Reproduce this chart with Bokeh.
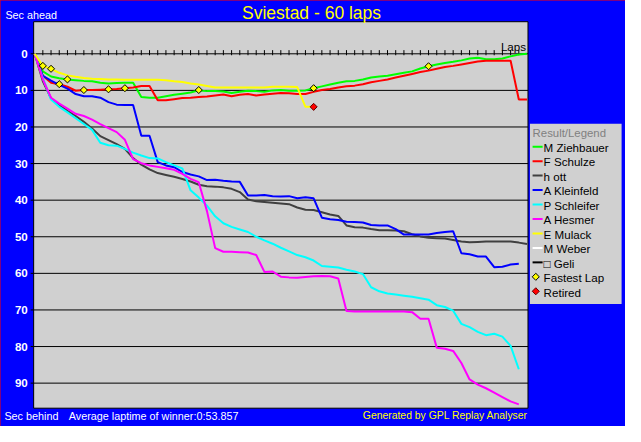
import math
from bokeh.plotting import figure
from bokeh.models import Range1d, Label
from bokeh.core.properties import value
from bokeh.embed import file_html
from bokeh.resources import INLINE

# ---------------- data ----------------
title_text = "Sviestad - 60 laps"
laps = list(range(61))
y_ticks = [0, 10, 20, 30, 40, 50, 60, 70, 80, 90]
y_tick_labels = [str(t) for t in y_ticks]

names = ["M Ziehbauer", "F Schulze", "h ott", "A Kleinfeld", "P Schleifer",
         "A Hesmer", "E Mulack", "M Weber", "\u25a1 Geli"]
colors = ["#00FF00", "#FF0000", "#404040", "#0000FF", "#00FFFF",
          "#FF00FF", "#FFFF00", "#FFFFFF", "#000000"]
marker_names = ["Fastest Lap", "Retired"]
marker_colors = ["#FFFF00", "#FF0000"]

ziehbauer = [0, 4.8, 6.2, 6.7, 7.0, 7.2, 7.4, 7.5, 7.9, 8.1,
             8.0, 7.9, 7.9, 11.8, 12.0, 12.0, 11.6, 11.2, 10.9, 10.6,
             10.0, 10.2, 10.2, 10.3, 10.7, 10.4, 10.1, 10.2, 10.4, 10.0,
             9.9, 10.1, 10.1, 10.0, 9.4, 8.9, 8.4, 7.9, 7.5, 7.4,
             7.0, 6.5, 6.2, 6.0, 5.6, 5.2, 4.8, 4.0, 3.4, 2.9,
             2.5, 2.2, 1.8, 1.3, 1.1, 1.5, 1.5, 1.3, 0.7, 0.2, 0.0]
schulze = [0, 6.0, 7.9, 8.3, 9.0, 10.1, 9.9, 9.9, 9.8, 9.7,
           9.6, 9.4, 9.2, 8.8, 8.8, 12.7, 12.7, 12.4, 12.1, 12.0,
           11.8, 11.7, 11.4, 11.1, 11.6, 11.2, 11.0, 11.4, 11.1, 10.9,
           10.7, 10.8, 11.0, 11.0, 10.4, 9.9, 9.6, 9.2, 8.9, 8.7,
           8.3, 7.8, 7.4, 7.0, 6.5, 6.0, 5.5, 5.0, 4.6, 4.1,
           3.6, 3.3, 2.9, 2.5, 2.1, 1.9, 1.9, 1.9, 1.9, 12.5, 12.5]
ott = [0, 7.5, 12.2, 14.0, 15.6, 17.0, 18.6, 20.4, 22.5, 23.6,
       24.7, 26.0, 28.5, 30.3, 31.6, 32.6, 33.1, 33.6, 34.2, 34.9,
       35.8, 36.2, 36.3, 36.5, 36.9, 37.8, 39.8, 40.3, 40.5, 40.7,
       40.9, 41.1, 42.0, 42.6, 42.7, 43.3, 43.9, 44.3, 46.9, 47.4,
       47.5, 47.9, 48.2, 48.2, 48.3, 48.5, 49.3, 49.9, 50.3, 50.4,
       50.5, 50.9, 51.3, 51.5, 51.4, 51.3, 51.3, 51.3, 51.3, 51.6, 52.0]
kleinfeld = [0, 6.0, 7.3, 8.5, 9.5, 11.0, 11.6, 11.6, 12.0, 13.2,
             13.9, 14.0, 14.0, 22.4, 22.4, 29.6, 30.5, 31.0, 32.3, 33.0,
             33.5, 34.5, 34.4, 34.7, 34.9, 35.0, 38.7, 38.7, 38.6, 38.9,
             39.0, 38.9, 39.5, 39.2, 39.5, 44.8, 45.2, 45.4, 45.9, 46.0,
             46.1, 46.8, 46.9, 46.9, 47.9, 49.4, 49.4, 49.4, 49.4, 49.0,
             48.7, 48.5, 54.5, 54.8, 55.4, 55.4, 58.3, 58.2, 57.6, 57.4]
schleifer = [0, 6.6, 12.5, 14.5, 16.0, 17.6, 19.2, 20.8, 24.3, 25.0,
             25.1, 26.0, 27.0, 27.8, 28.5, 28.6, 29.6, 30.5, 31.3, 37.3,
             39.3, 41.5, 44.4, 46.3, 47.3, 48.0, 48.7, 50.0, 51.0, 51.9,
             53.0, 54.0, 55.0, 55.6, 56.5, 58.0, 58.2, 58.4, 59.0, 59.5,
             60.2, 63.8, 64.9, 65.5, 65.8, 66.1, 66.4, 66.8, 67.2, 68.7,
             69.2, 70.2, 73.8, 74.7, 76.0, 76.9, 76.5, 77.3, 79.8, 86.2]
hesmer = [0, 7.0, 12.0, 13.6, 15.0, 16.4, 17.0, 18.0, 19.2, 20.3,
          21.4, 23.5, 28.8, 29.9, 30.5, 30.9, 31.3, 31.7, 32.8, 34.2,
          35.1, 43.0, 53.1, 54.1, 54.1, 54.2, 54.3, 55.0, 59.6, 59.5,
          60.9, 61.1, 61.2, 61.0, 60.8, 60.7, 60.8, 61.4, 70.3, 70.4,
          70.4, 70.4, 70.4, 70.4, 70.4, 70.4, 70.6, 72.4, 72.4, 80.3,
          80.6, 81.2, 84.5, 89.0, 90.4, 91.4, 92.6, 93.8, 95.0, 95.8]
mulack = [0, 3.3, 4.1, 5.2, 5.9, 6.3, 6.6, 6.8, 6.9, 7.0,
          7.0, 7.1, 7.1, 7.1, 7.1, 7.1, 7.2, 7.5, 7.7, 8.1,
          8.4, 8.8, 9.2, 9.2, 9.2, 9.2, 9.2, 9.2, 9.2, 9.0,
          9.0, 9.0, 9.1, 14.5, 14.5]
weber = []
geli = []
series = [ziehbauer, schulze, ott, kleinfeld, schleifer, hesmer, mulack, weber, geli]

fastest_laps = [1, 2, 3, 4, 6, 9, 11, 20, 34, 48]
fastest_secs = [3.3, 4.1, 8.3, 7.0, 9.9, 9.7, 9.4, 9.9, 9.4, 3.4]
retired_laps = [34]
retired_secs = [14.5]

# ---------------- layout (reference-pixel anchors) ----------------
W, H = 625, 426
RW, RH = 641.0, 442.0
LAP0_PX, LAP60_PX = 35.0, 540.0      # x pixel of lap 0 / lap 60
SEC0_PX, SEC90_PX = 55.3, 397.0      # y pixel of 0 s / 90 s


def lap_of(px):
    return (px - LAP0_PX) * 60.0 / (LAP60_PX - LAP0_PX)


def sec_of(py):
    return (py - SEC0_PX) * 90.0 / (SEC90_PX - SEC0_PX)


FONT = "Liberation Sans"

p = figure(width=W, height=H, output_backend="svg", toolbar_location=None, title=None,
           x_range=Range1d(lap_of(0), lap_of(RW)), y_range=Range1d(sec_of(RH), sec_of(0)),
           x_axis_location=None, y_axis_location=None,
           min_border=0, min_border_left=0, min_border_right=0,
           min_border_top=0, min_border_bottom=0,
           background_fill_color="#0000FF", border_fill_color="#0000FF",
           outline_line_color=None)
p.grid.visible = False
p.styles = {"outline": "2px solid #FF0000", "outline-offset": "-2px"}

# plot area
p.quad(left=[lap_of(34)], right=[lap_of(541)], top=[sec_of(22)], bottom=[sec_of(423)],
       fill_color="#D0D0D0", line_color="black", line_width=1)

# horizontal grid lines with their outside tick, and tick labels
n = len(y_ticks)
p.segment(x0=[lap_of(31)] * n, y0=y_ticks, x1=[lap_of(541)] * n, y1=y_ticks,
          line_color="black", line_width=1)
p.text(x=[lap_of(28)] * n, y=y_ticks, text=y_tick_labels,
       text_align="right", text_baseline="middle", text_color="white",
       text_font=value(FONT), text_font_style="bold", text_font_size="11.6px")

# lap marks on the zero line
p.segment(x0=laps[1:60], y0=[-1.0] * 59, x1=laps[1:60], y1=[0.4] * 59,
          line_color="black", line_width=1)

# driver lines
for name, col, s in zip(names, colors, series):
    p.line(laps[:len(s)], s, line_color=col, line_width=2)

# fastest laps / retirements
p.scatter(fastest_laps, fastest_secs, marker="square", size=5, angle=math.pi / 4,
          fill_color=marker_colors[0], line_color="black", line_width=1)
p.scatter(retired_laps, retired_secs, marker="square", size=5, angle=math.pi / 4,
          fill_color=marker_colors[1], line_color="#600000", line_width=1)

# ---------------- legend box ----------------
p.quad(left=[lap_of(543)], right=[lap_of(637)], top=[sec_of(128)], bottom=[sec_of(315)],
       fill_color="#D0D0D0", line_color=None)
row_px = [151.7 + 15.0 * i for i in range(len(names) + len(marker_names))]
row_y = [sec_of(r) for r in row_px]
text_y = [sec_of(r + 0.8) for r in row_px]
k = len(names)
p.segment(x0=[lap_of(545.7)] * k, y0=row_y[:k], x1=[lap_of(556)] * k, y1=row_y[:k],
          line_color=colors, line_width=2)
p.scatter([lap_of(549)], [row_y[k]], marker="square", size=5, angle=math.pi / 4,
          fill_color=marker_colors[0], line_color="black", line_width=1)
p.scatter([lap_of(549)], [row_y[k + 1]], marker="square", size=5, angle=math.pi / 4,
          fill_color=marker_colors[1], line_color="#600000", line_width=1)
p.text(x=[lap_of(557)] * len(row_px), y=text_y, text=names + marker_names,
       text_align="left", text_baseline="middle", text_color="black",
       text_font=value(FONT), text_font_size="11.6px")


def ref_label(text, rx, ry, size, color, align="left"):
    # ry: vertical middle of the capitals in reference pixels
    p.add_layout(Label(x=lap_of(rx), y=sec_of(ry), text=text, text_align=align,
                       text_baseline="middle", text_font=FONT,
                       text_font_size=size, text_color=color))


ref_label("Result/Legend", 545.7, 137, "11.4px", "#808080")
ref_label("Laps", 539, 48, "11.6px", "black", align="right")
ref_label("Sec ahead", 5, 15, "10.8px", "white")
ref_label(title_text, 319, 13, "17.5px", "#FFFF00", align="center")
ref_label("Sec behind", 4, 431, "10.8px", "white")
ref_label("Average laptime of winner:0:53.857", 70, 431, "10.8px", "white")
ref_label("Generated by GPL Replay Analyser", 541, 431, "10.4px", "#FFFF00", align="right")

open("out.html", "w").write(file_html(p, INLINE))
